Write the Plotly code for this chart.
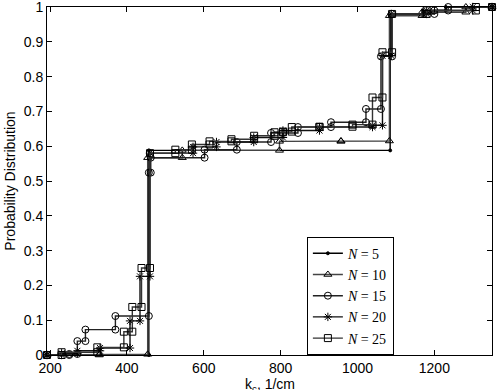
import plotly.graph_objects as go

# x-range of the empirical distributions
x_start = 192
x_end = 1350

# jump locations (k_c, 1/cm) and cumulative probability after each jump
n5_x = [457, 1085, 1170, 1230]
n5_p = [0.588, 0.976, 0.99, 1.0]

n10_x = [328, 454, 544, 797, 957, 1083, 1168, 1282]
n10_p = [0.002, 0.567, 0.588, 0.614, 0.615, 0.975, 0.985, 1.0]

n15_x = [250, 271, 292, 370, 457, 462, 602, 686, 775, 845, 931, 1022, 1061, 1090, 1200, 1236]
n15_p = [0.003, 0.04, 0.073, 0.112, 0.524, 0.567, 0.59, 0.612, 0.638, 0.655, 0.669, 0.707, 0.858, 0.98, 0.99, 1.0]

n20_x = [230, 271, 330, 408, 434, 460, 572, 633, 730, 806, 901, 1039, 1065, 1088, 1180, 1300]
n20_p = [0.005, 0.012, 0.02, 0.098, 0.226, 0.58, 0.598, 0.612, 0.625, 0.645, 0.655, 0.66, 0.86, 0.98, 0.99, 1.0]

n25_x = [230, 323, 392, 414, 438, 460, 526, 569, 615, 672, 731, 784, 806, 829, 901, 987, 1039, 1065, 1090, 1180, 1308]
n25_p = [0.008, 0.022, 0.067, 0.138, 0.25, 0.58, 0.59, 0.605, 0.614, 0.62, 0.63, 0.64, 0.642, 0.655, 0.656, 0.662, 0.74, 0.87, 0.98, 0.99, 1.0]

labels = ["<i>N</i> = 5", "<i>N</i> = 10", "<i>N</i> = 15", "<i>N</i> = 20", "<i>N</i> = 25"]
series = [(n5_x, n5_p), (n10_x, n10_p), (n15_x, n15_p), (n20_x, n20_p), (n25_x, n25_p)]
symbols = ["circle", "triangle-up-open", "circle-open", "asterisk-open", "square-open"]
msizes = [3, 7, 7, 7, 7]
lcolors = ["#000000", "#444444", "#222222", "#111111", "#333333"]

x_ticks = [200, 400, 600, 800, 1000, 1200]
y_ticks = [0, 0.1, 0.2, 0.3, 0.4, 0.5, 0.6, 0.7, 0.8, 0.9, 1]
y_ticktext = ["0", "0.1", "0.2", "0.3", "0.4", "0.5", "0.6", "0.7", "0.8", "0.9", "1"]

x_title = "k<sub>c</sub>, 1/cm"
y_title = "Probability Distribution"


def stair_vertices(xs, ps):
    vx, vy = [x_start], [0.0]
    prev = 0.0
    for x, p in zip(xs, ps):
        vx += [x, x]
        vy += [prev, p]
        prev = p
    vx.append(x_end)
    vy.append(prev)
    return vx, vy


fig = go.Figure()
for (xs, ps), name, sym, ms, lc in zip(series, labels, symbols, msizes, lcolors):
    vx, vy = stair_vertices(xs, ps)
    fig.add_trace(go.Scatter(
        x=vx, y=vy, mode="lines+markers", name=name,
        line=dict(color=lc, width=1.4),
        marker=dict(symbol=sym, size=ms, color="#000000",
                    line=dict(color="#000000", width=1)),
        cliponaxis=False,
    ))

sans = "Liberation Sans, Arial, sans-serif"
axis_common = dict(
    showgrid=False, zeroline=False, showline=True, linecolor="black", linewidth=1,
    mirror="ticks", ticks="inside", ticklen=5, tickcolor="black",
    ticklabeloverflow="allow",
    tickfont=dict(family=sans, size=14, color="black"),
)

fig.update_xaxes(range=[x_start, x_end], tickvals=x_ticks, **axis_common)
fig.update_yaxes(range=[0, 1], tickvals=y_ticks, ticktext=y_ticktext,
                 title=dict(text=y_title, standoff=4,
                            font=dict(family=sans, size=14, color="black")),
                 **axis_common)

fig.add_annotation(text=x_title, xref="paper", yref="paper",
                   x=0.5, y=-0.056, xanchor="center", yanchor="top",
                   showarrow=False, font=dict(family=sans, size=14, color="black"))

fig.update_layout(
    width=500, height=390,
    margin=dict(l=47, r=8, t=7, b=35, autoexpand=False),
    paper_bgcolor="white", plot_bgcolor="white",
    showlegend=True,
    legend=dict(x=0.584, y=0.34, xanchor="left", yanchor="top",
                bordercolor="black", borderwidth=1, bgcolor="white",
                font=dict(family="Liberation Serif, serif", size=14, color="black"),
                tracegroupgap=0, itemwidth=30),
)

fig.write_html("out.html")
